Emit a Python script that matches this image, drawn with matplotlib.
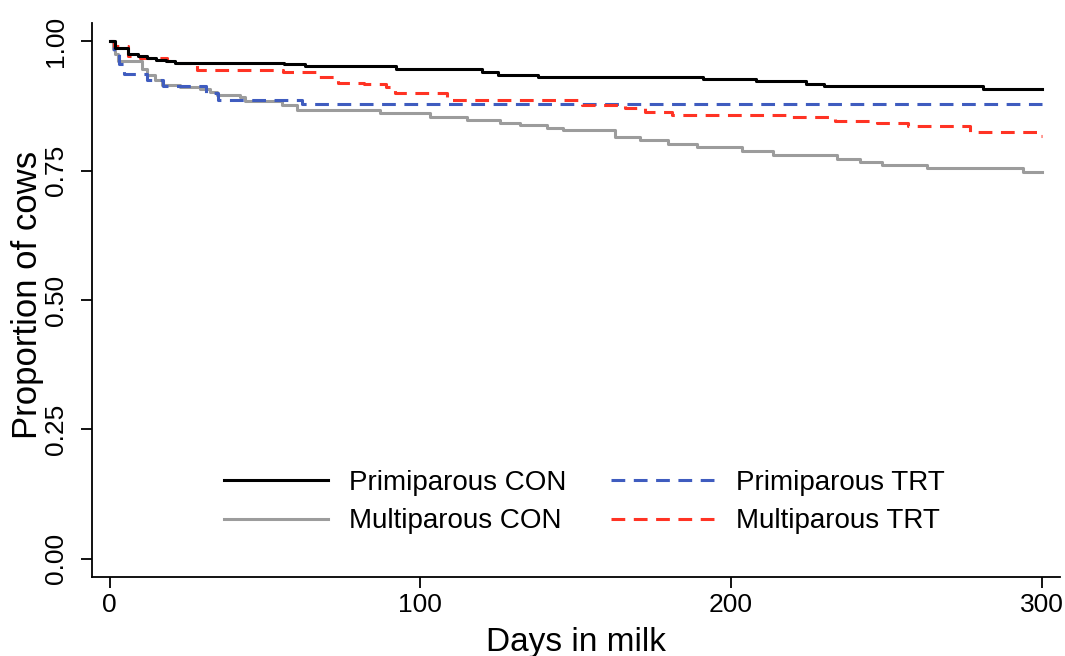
import matplotlib
matplotlib.use("Agg")
import matplotlib.pyplot as plt

# ---- data ----
pcon_days = [0, 1.7, 5.9, 9, 12, 15, 18, 21, 56, 63, 92, 120, 125, 138, 191, 208, 224, 230, 281, 300]
pcon_surv = [1.0, 0.987, 0.976, 0.972, 0.968, 0.964, 0.961, 0.958, 0.955, 0.952, 0.946, 0.941,
             0.935, 0.931, 0.927, 0.923, 0.918, 0.913, 0.907, 0.907]

mcon_days = [0, 1, 1.7, 2.8, 10.3, 11.9, 14.6, 16.7, 22.6, 29, 32.3, 34.4, 41.9, 43.5, 55.5, 60.3,
             87, 103, 115, 125.6, 132, 140.7, 145.9, 162.6, 170.7, 179.7, 189, 203.5, 213.5, 234,
             241.5, 248.6, 263, 294, 300]
mcon_surv = [1.0, 0.985, 0.976, 0.961, 0.947, 0.934, 0.925, 0.915, 0.912, 0.907, 0.902, 0.896,
             0.892, 0.884, 0.876, 0.867, 0.862, 0.854, 0.847, 0.842, 0.838, 0.833, 0.828, 0.815,
             0.809, 0.801, 0.796, 0.788, 0.780, 0.772, 0.766, 0.761, 0.755, 0.748, 0.748]

ptrt_days = [0, 1.5, 3, 4.5, 12, 17, 31, 35, 62, 300]
ptrt_surv = [1.0, 0.975, 0.955, 0.937, 0.925, 0.913, 0.900, 0.886, 0.878, 0.878]

mtrt_days = [0, 1.5, 6, 9.8, 18.5, 21.7, 28.1, 55.8, 67, 73.5, 82, 89, 91.8, 108.6, 152, 165.8,
             172.3, 181, 219, 233.5, 247, 257, 276.9, 299.5, 300]
mtrt_surv = [1.0, 0.99, 0.972, 0.967, 0.961, 0.957, 0.945, 0.940, 0.931, 0.920, 0.917, 0.911,
             0.899, 0.887, 0.876, 0.870, 0.863, 0.857, 0.853, 0.846, 0.842, 0.836, 0.824, 0.817, 0.817]

labels = ["Primiparous CON", "Multiparous CON", "Primiparous TRT", "Multiparous TRT"]
x_ticks = [0, 100, 200, 300]
y_ticks = [0.0, 0.25, 0.5, 0.75, 1.0]
y_ticklabels = ["0.00", "0.25", "0.50", "0.75", "1.00"]

# ---- style ----
plt.rcParams['font.family'] = ['Liberation Sans', 'DejaVu Sans']
W, H = 1065, 656
fig = plt.figure(figsize=(W / 100, H / 100), dpi=100)
ax = fig.add_axes([92 / W, 1 - 577 / H, (1060 - 92) / W, (577 - 23) / H])

c_black = "#000000"
c_gray = "#9c9c9c"
c_blue = "#3f5cbf"
c_red = "#ff3324"
lw = 2.2
dash = (0, (4.5, 2.8))

series = [
    (pcon_days, pcon_surv, c_black, "-"),
    (mcon_days, mcon_surv, c_gray, "-"),
    (ptrt_days, ptrt_surv, c_blue, dash),
    (mtrt_days, mtrt_surv, c_red, dash),
]
handles = []
for i, (d, s, c, ls) in enumerate(series):
    h, = ax.plot(d, s, drawstyle="steps-post", color=c, lw=lw, linestyle=ls,
                 zorder=3 if i == 0 else 2)
    handles.append(h)

ax.set_xlim(-5.7, 305.9)
ax.set_ylim(-0.035, 1.035)
ax.spines['top'].set_visible(False)
ax.spines['right'].set_visible(False)
for sp in ['left', 'bottom']:
    ax.spines[sp].set_linewidth(1.3)

ax.set_xticks(x_ticks)
ax.set_xticklabels([str(t) for t in x_ticks])
ax.set_yticks(y_ticks)
ax.set_yticklabels(y_ticklabels, rotation=90, va='center')
ax.tick_params(axis='both', length=8, width=1.3, labelsize=19)
ax.tick_params(axis='x', pad=3.5)
ax.tick_params(axis='y', pad=9)

fig.text(576 / W, 1 - 651 / H, "Days in milk", fontsize=24, ha='center', va='baseline')
fig.text(11 / W, 1 - 295 / H, "Proportion of cows", fontsize=25, rotation=90,
         ha='left', va='center')

leg = ax.legend(handles, labels, ncol=2, frameon=False, fontsize=20,
                loc='center left', bbox_to_anchor=(224 / W, 1 - 502 / H),
                bbox_transform=fig.transFigure, borderpad=0, borderaxespad=0,
                handlelength=3.75, handletextpad=0.75, columnspacing=1.6,
                labelspacing=0.45)

fig.savefig("out.png", dpi=100)
